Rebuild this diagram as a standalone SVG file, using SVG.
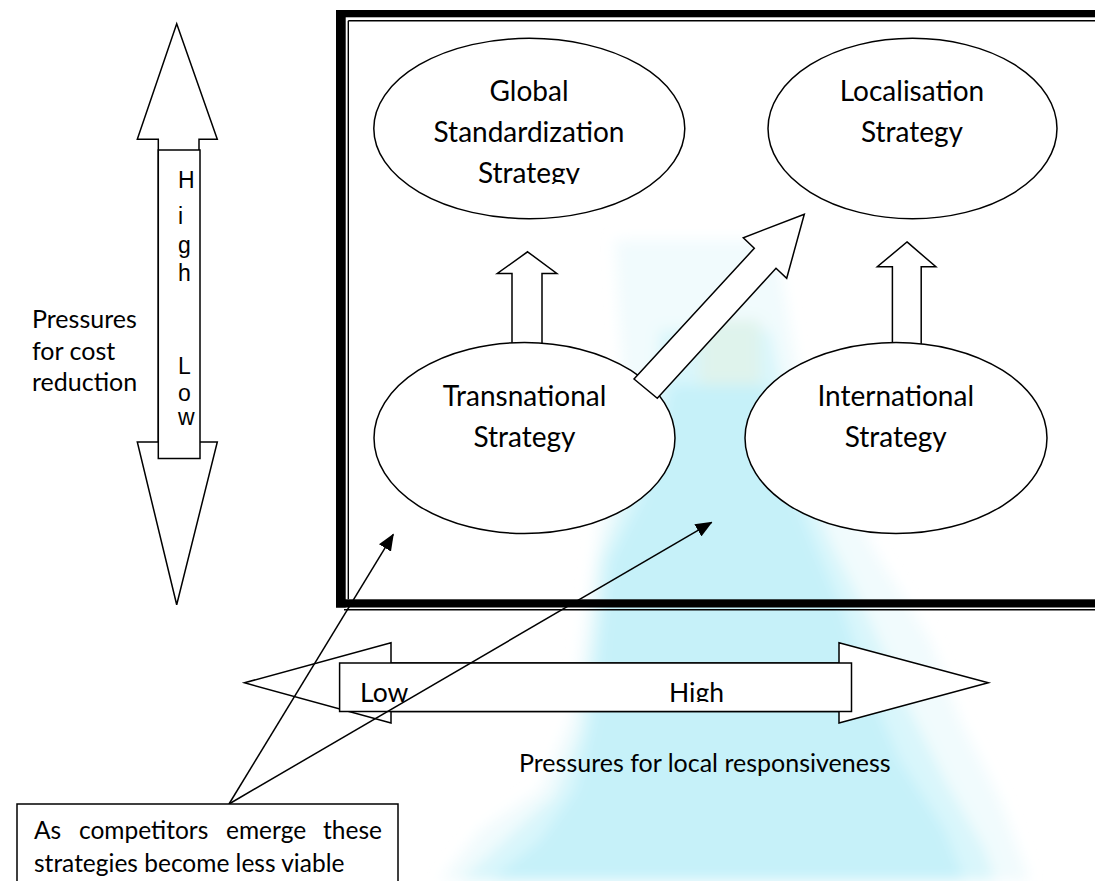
<svg xmlns="http://www.w3.org/2000/svg" width="1095" height="881" viewBox="0 0 1095 881">
  <defs>
    <style>
      .ol { fill: #ffffff; stroke: #000000; stroke-width: 1.5; stroke-linejoin: miter; }
      .txt { font-family: Lato, "Liberation Sans", Arial, sans-serif; fill: #000000; }
      .big { font-size: 28px; text-anchor: middle; }
      .mid { font-size: 25px; }
      .note { font-size: 24.5px; }
      .axis { font-family: "Liberation Sans", Arial, sans-serif; font-size: 23px; fill: #000000; }
      .conn { fill: none; stroke: #000000; stroke-width: 1.5; }
      .frame { fill: #000000; }
      .thin { stroke: #000000; stroke-width: 1.4; }
    </style>
    <marker id="head" markerUnits="userSpaceOnUse" markerWidth="17" markerHeight="14" viewBox="0 0 17 14" refX="16" refY="7" orient="auto">
      <path d="M0,0 L17,7 L0,14 z" fill="#000000"/>
    </marker>
    <filter id="soft" x="-20%" y="-20%" width="140%" height="140%">
      <feGaussianBlur stdDeviation="7"/>
    </filter>
    <clipPath id="clipGlobal"><rect x="360" y="40" width="340" height="144"/></clipPath>
    <clipPath id="clipBar"><rect x="340" y="664" width="511" height="38"/></clipPath>
  </defs>

  <rect width="1095" height="881" fill="#ffffff"/>

  <!-- faint background watermark -->
  <g id="watermark" filter="url(#soft)">
    <polygon fill="#f1fbfd" points="615,240 775,240 800,380 830,470 880,560 930,640 960,720 1000,800 1030,881 440,881 480,830 540,790 570,720 585,620 600,520 625,420"/>
    <polygon fill="#d9f6fb" points="660,330 770,330 795,450 830,540 870,620 905,700 945,780 985,850 995,881 460,881 510,835 555,795 580,730 592,640 600,560 630,480 655,400"/>
    <polygon fill="#c6f1f9" points="670,385 765,385 785,470 815,545 845,615 870,690 900,760 945,830 965,881 490,881 540,840 575,790 592,720 600,640 610,560 640,500 660,440"/>
    <rect x="700" y="320" width="60" height="65" fill="#dff3ec"/>
  </g>

  <!-- frame -->
  <g id="frame">
    <rect class="frame" x="336" y="10" width="760" height="7.3"/>
    <rect class="frame" x="336" y="10" width="9.7" height="597.5"/>
    <rect class="frame" x="336" y="599.3" width="760" height="8.2"/>
    <line class="thin" x1="348.3" y1="20.7" x2="1095" y2="20.7"/>
    <line class="thin" x1="348.3" y1="20.7" x2="348.3" y2="599.3"/>
    <line class="thin" x1="344" y1="609.8" x2="1095" y2="609.8"/>
  </g>

  <!-- vertical axis: pressures for cost reduction -->
  <g id="cost-axis">
    <polygon class="ol" points="176.7,23.7 217.3,139.3 199,139.3 199,442 217.3,442 176.7,604.7 137.3,442 158.3,442 158.3,139.3 137.3,139.3"/>
    <rect class="ol" x="158.3" y="150" width="41.7" height="308.5"/>
    <g class="axis">
      <text x="178" y="188">H</text>
      <text x="178" y="224">i</text>
      <text x="178" y="253">g</text>
      <text x="178" y="281">h</text>
      <text x="178" y="374">L</text>
      <text x="178" y="401">o</text>
      <text x="178" y="425">w</text>
    </g>
  </g>
  <g id="cost-label" class="txt mid">
    <text x="32" y="328">Pressures</text>
    <text x="32" y="360">for cost</text>
    <text x="32" y="391">reduction</text>
  </g>

  <!-- block arrows between strategies -->
  <g id="arrow-up-left">
    <polygon class="ol" points="527.6,251.8 556.8,273.5 542,273.5 542,352 512,352 512,273.5 497.3,273.5"/>
  </g>
  <g id="arrow-up-right">
    <polygon class="ol" points="907,241.9 935.9,266.8 921.2,266.8 921.2,352 892.4,352 892.4,266.8 877.3,266.8"/>
  </g>

  <!-- strategy nodes -->
  <g id="global">
    <ellipse class="ol" cx="529.3" cy="128.5" rx="155.5" ry="90.2"/>
    <g class="txt big" clip-path="url(#clipGlobal)">
      <text x="529" y="101">Global</text>
      <text x="529" y="141.5">Standardization</text>
      <text x="529" y="182.6">Strategy</text>
    </g>
  </g>
  <g id="localisation">
    <ellipse class="ol" cx="912.5" cy="128.5" rx="144.5" ry="90.2"/>
    <g class="txt big">
      <text x="912" y="101">Localisation</text>
      <text x="912" y="141.5">Strategy</text>
    </g>
  </g>
  <g id="transnational">
    <ellipse class="ol" cx="524.5" cy="438" rx="150.5" ry="95.5"/>
    <g class="txt big">
      <text x="524.5" y="406">Transnational</text>
      <text x="524.5" y="447.4">Strategy</text>
    </g>
  </g>
  <g id="international">
    <ellipse class="ol" cx="896" cy="438" rx="151" ry="95.5"/>
    <g class="txt big">
      <text x="895.7" y="406">International</text>
      <text x="895.7" y="447.4">Strategy</text>
    </g>
  </g>

  <g id="arrow-diagonal">
    <polygon class="ol" points="634,379 754.3,248.3 743.3,237.7 804.3,214.3 786.7,278.3 776,268.3 657.3,398.3"/>
  </g>

  <!-- horizontal axis: pressures for local responsiveness -->
  <g id="local-axis">
    <polygon class="ol" points="244.5,682.8 391,642.7 391,663 839,663 839,642.7 988.3,682.8 839,723 839,711.5 391,711.5 391,723"/>
    <rect class="ol" x="339.6" y="663" width="511.9" height="48.5"/>
    <g class="txt" font-size="26.5px" clip-path="url(#clipBar)">
      <text x="360" y="701.5">Low</text>
      <text x="669" y="701.5">High</text>
    </g>
  </g>
  <text id="local-label" class="txt mid" x="519" y="772.3">Pressures for local responsiveness</text>

  <!-- callout connectors -->
  <g id="connectors">
    <line class="conn" x1="229" y1="804" x2="393.3" y2="534.3" marker-end="url(#head)"/>
    <line class="conn" x1="229" y1="804" x2="711.7" y2="522.3" marker-end="url(#head)"/>
  </g>

  <!-- callout note (first line justified) -->
  <g id="note">
    <rect class="ol" x="17" y="804" width="381" height="90"/>
    <g class="txt note">
      <text x="34" y="839">As</text>
      <text x="79" y="839">competitors</text>
      <text x="226" y="839">emerge</text>
      <text x="382" y="839" text-anchor="end">these</text>
      <text x="34" y="872">strategies become less viable</text>
    </g>
  </g>
</svg>
